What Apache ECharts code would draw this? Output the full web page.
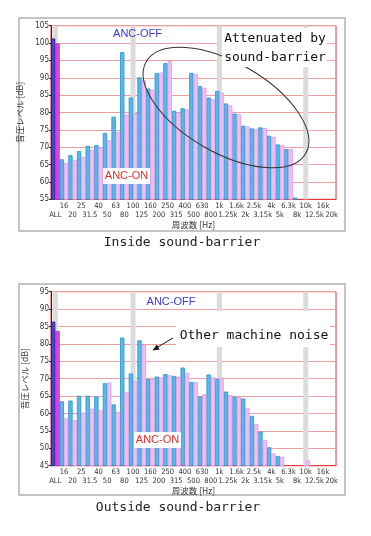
<!DOCTYPE html>
<html><head><meta charset="utf-8">
<script src="https://cdn.jsdelivr.net/npm/echarts@6/dist/echarts.min.js"></script>
<style>html,body{margin:0;padding:0;background:#fff;}#c{width:371px;height:536px;}</style>
</head><body><div id="c"></div>
<script>
// ---- data ----
const categories = ['ALL','16','20','25','31.5','40','50','63','80','100','125','160','200','250','315','400','500','630','800','1k','1.25k','1.6k','2k','2.5k','3.15k','4k','5k','6.3k','8k','10k','12.5k','16k','20k'];
const insideOff = [101.3,66.5,67.7,68.9,70.4,70.6,74.1,78.8,97.4,84.3,90.1,86.9,91.4,94.2,80.5,81.2,91.4,87.6,84.3,86.2,82.6,79.7,76.2,75.4,75.7,73.3,70.8,69.5,55.5,'-','-','-','-'];
const insideOn  = [99.9,65.5,66.3,67.2,69.3,69.9,72.0,74.4,79.4,79.8,89.3,86.6,91.5,94.8,79.9,80.9,91.1,87.1,83.8,85.7,82.0,79.5,76.0,75.3,75.5,73.0,70.6,69.5,'-','-','-','-','-'];
const outsideOff = [86.4,63.5,63.7,65.1,65.1,64.9,68.7,62.6,81.8,71.5,81.0,69.9,70.6,71.3,70.8,73.2,69.1,64.8,71.2,69.9,66.3,64.8,64.3,59.3,54.8,50.3,47.8,'-','-','-','-','-','-'];
const outsideOn  = [83.7,58.6,58.1,60.2,61.4,61.0,68.9,60.5,66.1,69.3,79.8,69.9,70.4,71.0,70.6,71.7,69.0,65.5,70.4,70.3,65.3,64.8,61.5,57.0,52.4,48.5,47.6,'-','-',46.5,'-','-','-'];
const bandCats = ['ALL','100','1k','10k'];
const insideRange = [55, 105];
const outsideRange = [45, 95];
const tickStep = 5;
const yName = '音圧レベル [dB]';
const xName = '周波数 [Hz]';

// ---- build ----
const NARROW = "'DejaVu Sans Condensed','Liberation Sans Narrow','Liberation Sans',sans-serif";
const MONO = "'DejaVu Sans Mono','Liberation Mono',monospace";
const SANS = "'Liberation Sans',Arial,sans-serif";
const CJK = "'Noto Sans CJK JP',sans-serif";

function styled(arr, allColor, allBorder) {
  return arr.map((v, i) => i === 0 && v !== '-' ? {value: v, itemStyle: {color: allColor, borderColor: allBorder}} : v);
}
function bandData(top) {
  return categories.map(c => bandCats.indexOf(c) >= 0 ? top : '-');
}
function xAxisFor(gi) {
  return {
    type: 'category', gridIndex: gi, data: categories, boundaryGap: true,
    axisLine: {lineStyle: {color: '#e03a3a', width: 1}},
    axisTick: {show: false},
    axisLabel: {
      interval: 0, hideOverlap: false, margin: 2, fontSize: 7.5, lineHeight: 9,
      color: '#333', fontFamily: NARROW,
      formatter: (v, i) => (i % 2 === 1 ? v : '\n' + v)
    },
    name: xName, nameLocation: 'middle', nameGap: 19,
    nameTextStyle: {fontSize: 8.5, color: '#333', fontFamily: CJK}
  };
}
function yAxisFor(gi, range) {
  return {
    type: 'value', gridIndex: gi, min: range[0], max: range[1], interval: tickStep,
    axisLine: {show: true, lineStyle: {color: '#222', width: 1}},
    axisTick: {show: true, length: 2, lineStyle: {color: '#222'}},
    axisLabel: {margin: 2, fontSize: 8, color: '#333', fontFamily: NARROW},
    splitLine: {show: true, lineStyle: {color: '#f0a0a0', width: 1}},
    name: yName, nameLocation: 'middle', nameRotate: 90, nameGap: 18,
    nameTextStyle: {fontSize: 8.5, color: '#333', fontFamily: CJK}
  };
}
const offStyle = {color: '#58b9e8', borderColor: '#2a8fd2', borderWidth: 0.8};
const onStyle = {color: '#f2bff0', borderColor: '#dc98e2', borderWidth: 0.8};
function barSeries(xi, yi, data, style, allC, allB) {
  return {
    type: 'bar', xAxisIndex: xi, yAxisIndex: yi, data: styled(data, allC, allB),
    barGap: '0%', barCategoryGap: '0%', itemStyle: style, z: 3, silent: true, animation: false
  };
}
function bandSeries(xi, yi, top) {
  return {
    type: 'bar', xAxisIndex: xi, yAxisIndex: yi, data: bandData(top), barWidth: 5,
    itemStyle: {color: '#dcdcdc'}, z: 1, silent: true, animation: false
  };
}

const chart = echarts.init(document.getElementById('c'), null, {renderer: 'canvas'});
chart.setOption({
  animation: false,
  backgroundColor: '#fff',
  grid: [
    {left: 51, top: 25.7, width: 285, height: 173.6, show: true, borderColor: '#e03a3a', borderWidth: 1, backgroundColor: '#fff'},
    {left: 51, top: 291.7, width: 285, height: 174, show: true, borderColor: '#e03a3a', borderWidth: 1, backgroundColor: '#fff'}
  ],
  xAxis: [
    xAxisFor(0), xAxisFor(1),
    {type: 'category', gridIndex: 0, data: categories, show: false},
    {type: 'category', gridIndex: 1, data: categories, show: false}
  ],
  yAxis: [yAxisFor(0, insideRange), yAxisFor(1, outsideRange)],
  series: [
    bandSeries(2, 0, insideRange[1]),
    barSeries(0, 0, insideOff, offStyle, '#4646cc', '#20208c'),
    barSeries(0, 0, insideOn, onStyle, '#e040e6', '#b020c0'),
    bandSeries(3, 1, outsideRange[1]),
    barSeries(1, 1, outsideOff, offStyle, '#4646cc', '#20208c'),
    barSeries(1, 1, outsideOn, onStyle, '#e040e6', '#b020c0')
  ],
  graphic: [
    // frames
    {type: 'rect', z: 0, shape: {x: 19, y: 18, width: 326, height: 213}, style: {fill: 'none', stroke: '#c4c4c4', lineWidth: 2}},
    {type: 'rect', z: 0, shape: {x: 19, y: 284, width: 326, height: 211}, style: {fill: 'none', stroke: '#c4c4c4', lineWidth: 2}},
    // captions
    {type: 'text', z: 100, x: 182, y: 243, style: {text: 'Inside sound-barrier', font: '13px ' + MONO, fill: '#222', align: 'center', verticalAlign: 'middle'}},
    {type: 'text', z: 100, x: 178, y: 508, style: {text: 'Outside sound-barrier', font: '13px ' + MONO, fill: '#222', align: 'center', verticalAlign: 'middle'}},
    // ellipse (top chart)
    {type: 'ellipse', z: 50, x: 226, y: 107.5, rotation: -30 * Math.PI / 180, shape: {cx: 0, cy: 0, rx: 92, ry: 45}, style: {fill: 'none', stroke: '#333', lineWidth: 1}},
    // white boxes
    {type: 'rect', z: 60, shape: {x: 222, y: 28, width: 105, height: 39}, style: {fill: '#fff'}},
    {type: 'rect', z: 60, shape: {x: 103, y: 168, width: 47, height: 16}, style: {fill: '#fff'}},
    {type: 'rect', z: 60, shape: {x: 176, y: 311, width: 154, height: 36}, style: {fill: '#fff'}},
    {type: 'rect', z: 60, shape: {x: 134, y: 432, width: 47, height: 16}, style: {fill: '#fff'}},
    // annotation texts
    {type: 'text', z: 70, x: 275, y: 39, style: {text: 'Attenuated by', font: '13px ' + MONO, fill: '#111', align: 'center', verticalAlign: 'middle'}},
    {type: 'text', z: 70, x: 275, y: 58, style: {text: 'sound-barrier', font: '13px ' + MONO, fill: '#111', align: 'center', verticalAlign: 'middle'}},
    {type: 'text', z: 70, x: 254, y: 336, style: {text: 'Other machine noise', font: '13px ' + MONO, fill: '#111', align: 'center', verticalAlign: 'middle'}},
    {type: 'text', z: 70, x: 137.5, y: 34, style: {text: 'ANC-OFF', font: '11px ' + SANS, fill: '#3c3cd2', align: 'center', verticalAlign: 'middle'}},
    {type: 'text', z: 70, x: 126.5, y: 176, style: {text: 'ANC-ON', font: '11px ' + SANS, fill: '#e0302a', align: 'center', verticalAlign: 'middle'}},
    {type: 'text', z: 70, x: 171, y: 302, style: {text: 'ANC-OFF', font: '11px ' + SANS, fill: '#3c3cd2', align: 'center', verticalAlign: 'middle'}},
    {type: 'text', z: 70, x: 157.5, y: 440, style: {text: 'ANC-ON', font: '11px ' + SANS, fill: '#e0302a', align: 'center', verticalAlign: 'middle'}},
    // arrow
    {type: 'line', z: 70, shape: {x1: 173, y1: 338, x2: 156, y2: 348}, style: {stroke: '#111', lineWidth: 1}},
    {type: 'polygon', z: 70, shape: {points: [[152.5, 350.5], [159.6, 349.4], [156.8, 344.6]]}, style: {fill: '#111'}}
  ]
});
</script></body></html>
